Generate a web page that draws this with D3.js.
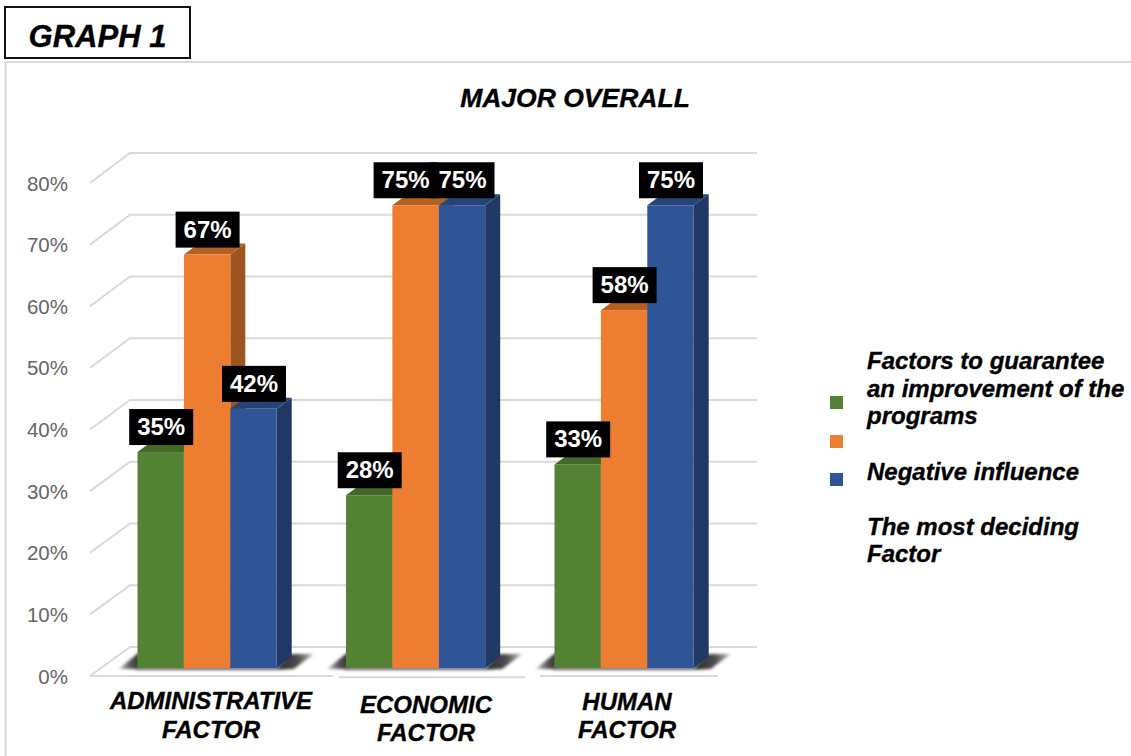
<!DOCTYPE html>
<html>
<head>
<meta charset="utf-8">
<script src="https://cdn.jsdelivr.net/npm/d3@7/dist/d3.min.js"></script>
<style>
html,body{margin:0;padding:0;background:#fff;}
svg{display:block;}
text{font-family:"Liberation Sans",Arial,sans-serif;}
.heavy text, text.heavy{stroke:#000;stroke-width:0.35px;}
</style>
</head>
<body>
<svg id="c" width="1131" height="756"></svg>
<script>
const chartLabel = "GRAPH 1";
const chartTitle = "MAJOR OVERALL";
const categories = ["ADMINISTRATIVE FACTOR", "ECONOMIC FACTOR", "HUMAN FACTOR"];
const seriesNames = ["Factors to guarantee an improvement of the programs", "", "Negative influence", "The most deciding Factor"];
const improvement = [35, 28, 33];
const unnamed = [67, 75, 58];
const negative = [42, 75, 75];
const ticks = [0, 10, 20, 30, 40, 50, 60, 70, 80];
const colors = ["#548235", "#ED7D31", "#2F5597"];
const topColors = ["#43682A", "#B5601F", "#264478"];
const sideColors = ["#3A5A25", "#9C5520", "#1F3864"];

const svg = d3.select("#c");
const defs = svg.append("defs");
defs.append("filter").attr("id","blur").attr("x","-20%").attr("y","-50%").attr("width","140%").attr("height","200%")
  .append("feGaussianBlur").attr("stdDeviation",1.8);
const gradR = defs.append("linearGradient").attr("id","shR");
gradR.append("stop").attr("offset","0").attr("stop-color","#262626");
gradR.append("stop").attr("offset","0.6").attr("stop-color","#4d4d4d");
gradR.append("stop").attr("offset","1").attr("stop-color","#c4c4c4");
const gradL = defs.append("linearGradient").attr("id","shL");
gradL.append("stop").attr("offset","0").attr("stop-color","#d0d0d0");
gradL.append("stop").attr("offset","0.55").attr("stop-color","#5a5a5a");
gradL.append("stop").attr("offset","1").attr("stop-color","#2e2e2e");

const gridCol = "#d9d9d9";
const frontY = d3.scaleLinear().domain([0, 80]).range([676, 183]);   // axis plane (front)
const backY = d3.scaleLinear().domain([0, 80]).range([647, 153]);    // wall plane (back)
const barY = d3.scaleLinear().domain([0, 80]).range([668, 174.4]);   // bar front plane
const groupX = d3.scaleOrdinal().domain(categories).range([137.5, 346, 554.5]);
const barW = 46.4;
const depthX = 15, depthY = 11;

// frame
svg.append("path").attr("d","M5.5,756V62H1131").attr("fill","none").attr("stroke","#d9d9d9").attr("stroke-width",2);
svg.append("rect").attr("x",5).attr("y",7).attr("width",185).attr("height",51).attr("fill","#fff").attr("stroke","#111").attr("stroke-width",2);
svg.append("text").attr("class","heavy").attr("x",97.5).attr("y",47).attr("text-anchor","middle").attr("font-size",31).attr("font-weight","bold").attr("font-style","italic").attr("fill","#000").text(chartLabel);
svg.append("text").attr("class","heavy").attr("x",575).attr("y",107).attr("text-anchor","middle").attr("font-size",26.5).attr("font-weight","bold").attr("font-style","italic").attr("fill","#000").text(chartTitle);

// grid
const grid = svg.append("g").attr("fill","none").attr("stroke",gridCol).attr("stroke-width",2);
grid.selectAll("path.g").data(ticks).join("path").attr("class","g")
  .attr("d", d => `M90,${frontY(d)}L130,${backY(d)}H757`);
[[90,333,676],[339,525,677.3],[540,718,676]].forEach(s => {
  grid.append("line").attr("x1",s[0]).attr("x2",s[1]).attr("y1",s[2]).attr("y2",s[2]);
});

// axis labels
const axis = svg.append("g").attr("transform","translate(68,0.5)")
  .call(d3.axisLeft(frontY).tickValues(ticks).tickSize(0).tickPadding(0).tickFormat(d => d + "%"));
axis.select(".domain").remove();
axis.selectAll("text").attr("font-size",20.5).attr("fill","#666666").attr("font-family","Liberation Sans");

// shadows
const shadows = svg.append("g").attr("filter","url(#blur)");
categories.forEach(c => {
  const a = groupX(c), b = a + barW * 3;
  shadows.append("path").attr("fill","url(#shL)").attr("d",`M${a-19},669L${a+2},652V669Z`);
  shadows.append("path").attr("fill","url(#shR)").attr("d",`M${b-2},670L${b+14},654H${b+37}L${b+17},669Z`);
  shadows.append("rect").attr("x",a-2).attr("y",667).attr("width",barW*3+4).attr("height",3).attr("fill","#5f5f5f");
});

// bars
const seriesValues = [improvement, unnamed, negative];
const bars = svg.append("g");
categories.forEach((c, ci) => {
  seriesValues.forEach((vals, si) => {
    const v = vals[ci];
    const l = groupX(c) + si * barW, r = l + barW, t = barY(v), b = barY(0);
    const g = bars.append("g");
    g.append("path").attr("fill",sideColors[si]).attr("d",`M${r},${t}L${r+depthX},${t-depthY}V${b-depthY}L${r},${b}Z`);
    g.append("path").attr("fill",topColors[si]).attr("d",`M${l},${t}L${l+depthX},${t-depthY}H${r+depthX}L${r},${t}Z`);
    g.append("rect").attr("x",l).attr("y",t).attr("width",barW).attr("height",b-t).attr("fill",colors[si]);
  });
});

// data labels
const labels = svg.append("g");
const labelW = 64, labelH = 36;
const items = [];
categories.forEach((c, ci) => seriesValues.forEach((vals, si) => {
  let cx = groupX(c) + (si + 0.5) * barW + 0.5;
  if (ci === 1 && si === 1) cx -= 10.5;
  items.push({v: vals[ci], cx, cy: barY(vals[ci]) - 25});
}));
labels.selectAll("rect").data(items).join("rect")
  .attr("x",d=>d.cx-labelW/2).attr("y",d=>d.cy-labelH/2).attr("width",labelW).attr("height",labelH).attr("fill","#000");
labels.selectAll("text").data(items).join("text")
  .attr("x",d=>d.cx).attr("y",d=>d.cy+8).attr("text-anchor","middle")
  .attr("font-size",24).attr("font-weight","bold").attr("fill","#fff").text(d=>d.v+"%");

// category labels
const catPos = [[211,709,738],[426,713,741],[627,710,738]];
const cats = svg.append("g").attr("class","heavy").attr("font-size",24).attr("font-weight","bold").attr("font-style","italic").attr("fill","#000").attr("text-anchor","middle");
categories.forEach((c,i) => {
  const w = c.split(" ");
  cats.append("text").attr("x",catPos[i][0]).attr("y",catPos[i][1]).text(w[0]);
  cats.append("text").attr("x",catPos[i][0]).attr("y",catPos[i][2]).text(w[1]);
});

// legend
const legSw = [396,435,473];
svg.append("g").selectAll("rect").data(colors).join("rect")
  .attr("x",830).attr("y",(d,i)=>legSw[i]).attr("width",13).attr("height",13).attr("fill",d=>d);
const legLines = [
  [seriesNames[0].slice(0,20),369],
  [seriesNames[0].slice(21,42),397],
  [seriesNames[0].slice(43),424],
  [seriesNames[2],480],
  [seriesNames[3].slice(0,17),535],
  [seriesNames[3].slice(18),562]
];
svg.append("g").attr("class","heavy").attr("font-size",24).attr("font-weight","bold").attr("font-style","italic").attr("fill","#000")
  .selectAll("text").data(legLines).join("text").attr("x",867).attr("y",d=>d[1]).text(d=>d[0]);
</script>
</body>
</html>
